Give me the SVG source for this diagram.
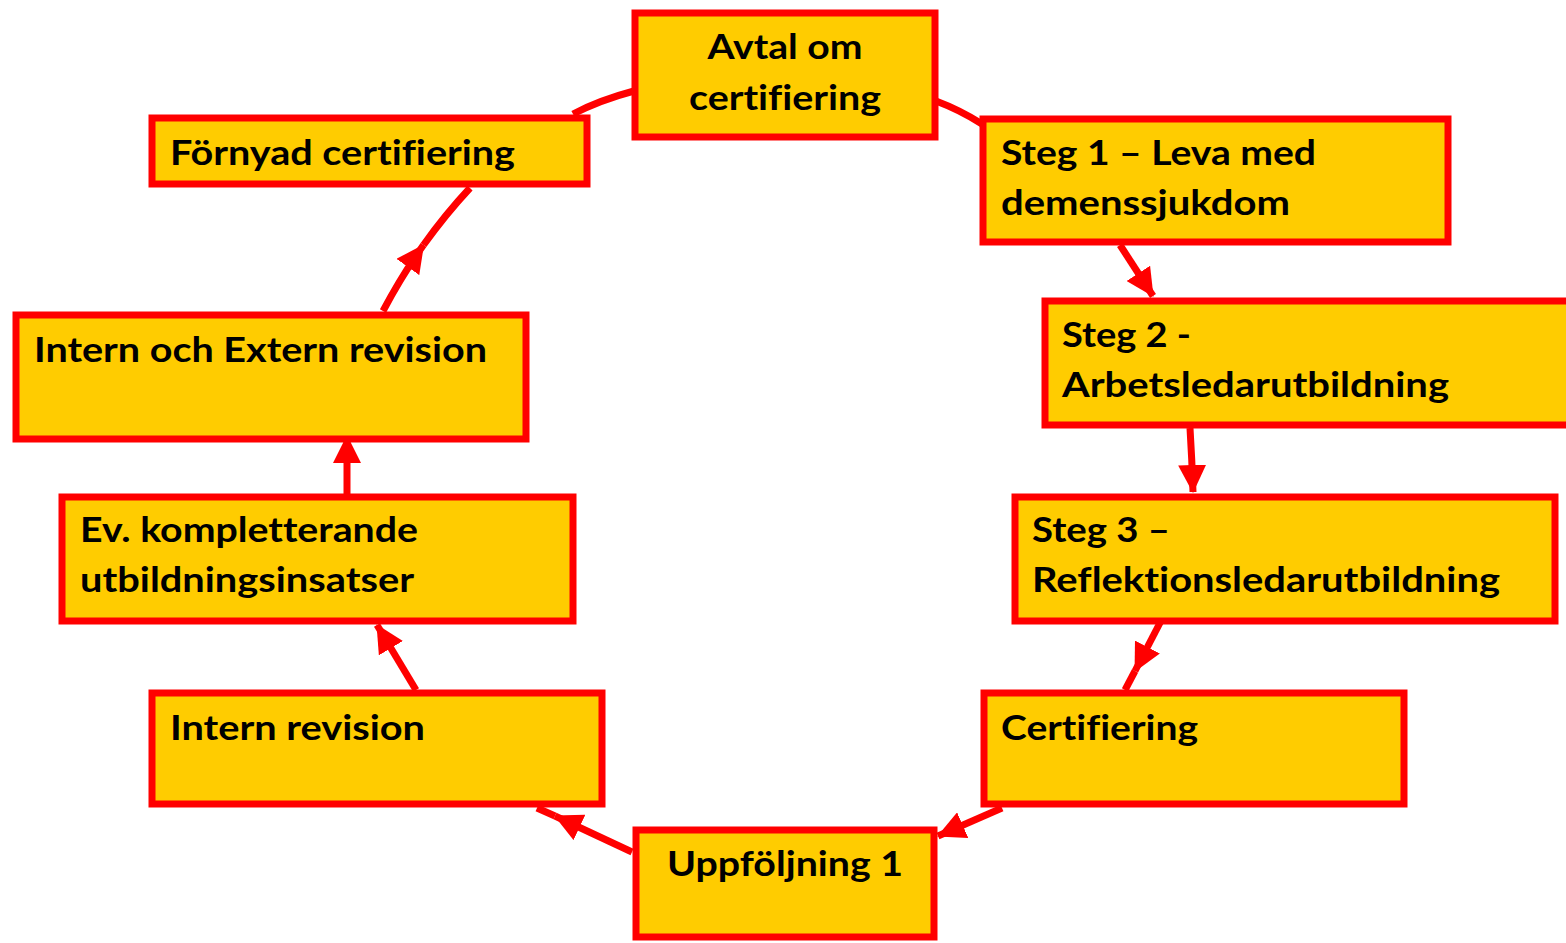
<svg xmlns="http://www.w3.org/2000/svg" width="1566" height="943" viewBox="0 0 1566 943">
<style>
.box{fill:#FFCC00;stroke:#FF0000;stroke-width:7}
.t{font-family:Lato,"Open Sans",sans-serif;font-weight:bold;font-size:35px;fill:#000;font-variant-ligatures:none}
.c{fill:none;stroke:#FF0000;stroke-width:7}
</style>
<defs>
<marker id="ah" markerUnits="userSpaceOnUse" markerWidth="28" markerHeight="28" refX="27" refY="14" orient="auto">
<path d="M0,0 L28,14 L0,28 z" fill="#FF0000"/>
</marker>
</defs>
<rect width="1566" height="943" fill="#FFFFFF"/>
<g id="connectors">
<path class="c" d="M573,114 Q600,100 634,91"/>
<path class="c" d="M936,101 Q960,110 982,124"/>
<path class="c" d="M1120,245 L1153,296" marker-end="url(#ah)"/>
<path class="c" d="M1190,428 Q1192,460 1193,492" marker-end="url(#ah)"/>
<path class="c" d="M1163,617 L1135,671" marker-end="url(#ah)"/>
<path class="c" d="M1135,671 L1125,690"/>
<path class="c" d="M1002,808 L938,836" marker-end="url(#ah)"/>
<path class="c" d="M632,852 L555,816" marker-end="url(#ah)"/>
<path class="c" d="M555,816 L537,808"/>
<path class="c" d="M416,690 L377,625" marker-end="url(#ah)"/>
<path class="c" d="M347,494 L347,436" marker-end="url(#ah)"/>
<path class="c" d="M383,311 Q401.8,275.5 423.5,245" marker-end="url(#ah)"/>
<path class="c" d="M423.5,245 Q445.3,214.5 470,188"/>
</g>
<g id="n1">
<rect class="box" x="635" y="13" width="300" height="124"/>
<text class="t" x="785" y="59" text-anchor="middle" textLength="155" lengthAdjust="spacingAndGlyphs">Avtal om</text>
<text class="t" x="785" y="110" text-anchor="middle" textLength="192" lengthAdjust="spacingAndGlyphs">certifiering</text>
</g>
<g id="n2">
<rect class="box" x="983" y="119" width="465" height="123"/>
<text class="t" x="1001" y="165" textLength="315" lengthAdjust="spacingAndGlyphs">Steg 1 – Leva med</text>
<text class="t" x="1001" y="215" textLength="289" lengthAdjust="spacingAndGlyphs">demenssjukdom</text>
</g>
<g id="n3">
<rect class="box" x="1045" y="301" width="540" height="124"/>
<text class="t" x="1062" y="347" textLength="129" lengthAdjust="spacingAndGlyphs">Steg 2 -</text>
<text class="t" x="1062" y="397" textLength="387" lengthAdjust="spacingAndGlyphs">Arbetsledarutbildning</text>
</g>
<g id="n4">
<rect class="box" x="1015" y="497" width="540" height="124"/>
<text class="t" x="1032" y="542" textLength="138" lengthAdjust="spacingAndGlyphs">Steg 3 –</text>
<text class="t" x="1032" y="592" textLength="468" lengthAdjust="spacingAndGlyphs">Reflektionsledarutbildning</text>
</g>
<g id="n5">
<rect class="box" x="984" y="693" width="420" height="111"/>
<text class="t" x="1001" y="740" textLength="197" lengthAdjust="spacingAndGlyphs">Certifiering</text>
</g>
<g id="n6">
<rect class="box" x="636" y="830" width="298" height="107"/>
<text class="t" x="785" y="876" text-anchor="middle" textLength="236" lengthAdjust="spacingAndGlyphs">Uppföljning 1</text>
</g>
<g id="n7">
<rect class="box" x="152" y="693" width="450" height="111"/>
<text class="t" x="170" y="740" textLength="255" lengthAdjust="spacingAndGlyphs">Intern revision</text>
</g>
<g id="n8">
<rect class="box" x="62" y="497" width="511" height="124"/>
<text class="t" x="80" y="542" textLength="338" lengthAdjust="spacingAndGlyphs">Ev. kompletterande</text>
<text class="t" x="80" y="592" textLength="334" lengthAdjust="spacingAndGlyphs">utbildningsinsatser</text>
</g>
<g id="n9">
<rect class="box" x="16" y="315" width="510" height="124"/>
<text class="t" x="34" y="362" textLength="453" lengthAdjust="spacingAndGlyphs">Intern och Extern revision</text>
</g>
<g id="n10">
<rect class="box" x="152" y="118" width="435" height="66"/>
<text class="t" x="170" y="165" textLength="345" lengthAdjust="spacingAndGlyphs">Förnyad certifiering</text>
</g>
</svg>
